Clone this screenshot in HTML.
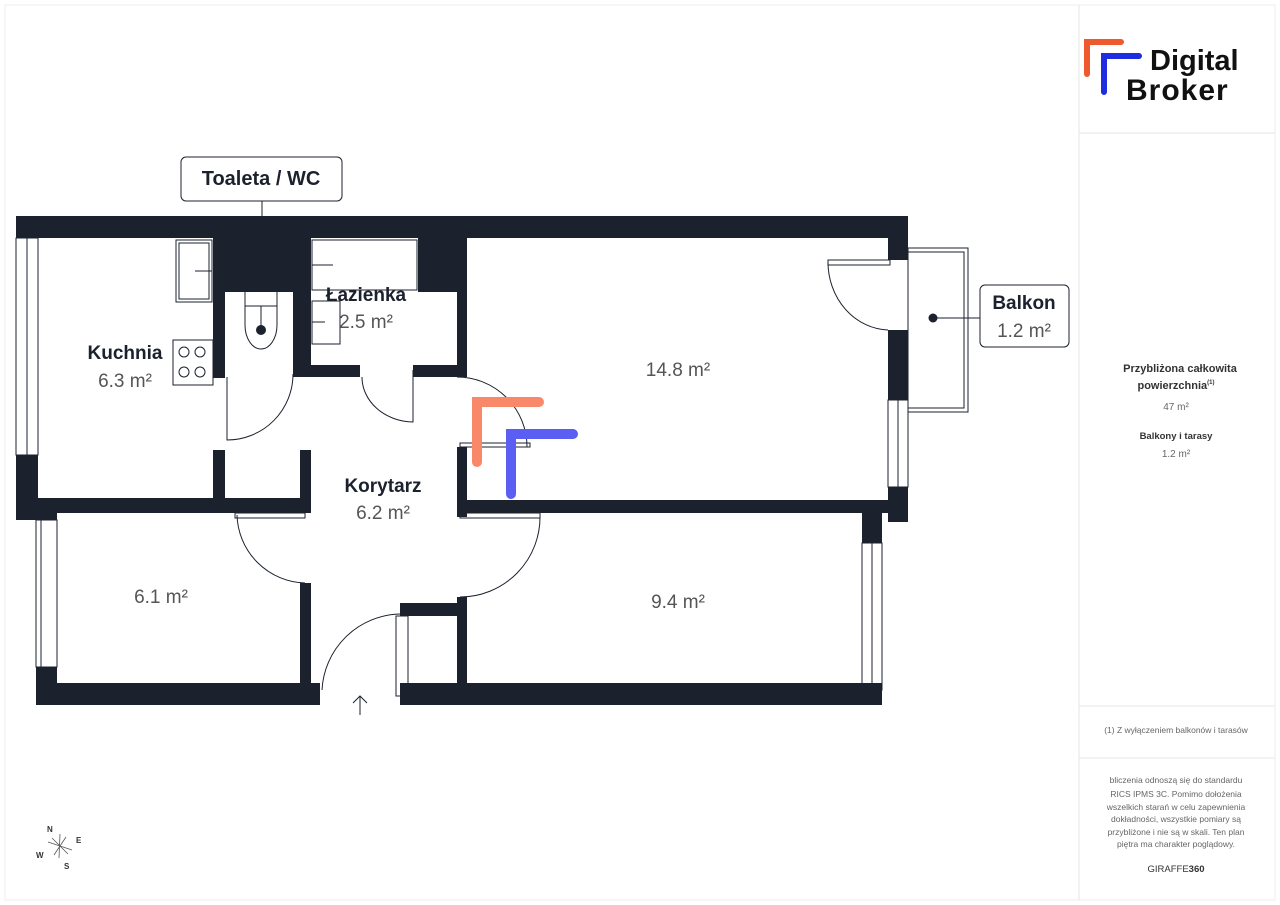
<!DOCTYPE html>
<html><head><meta charset="utf-8"><style>
html,body{margin:0;padding:0;background:#fff;}
svg{display:block;font-family:"Liberation Sans",sans-serif;}
</style></head><body>
<svg width="1280" height="905" viewBox="0 0 1280 905" xmlns="http://www.w3.org/2000/svg">
<rect x="5" y="5" width="1270" height="895" fill="#fff" stroke="#eee" stroke-width="1"/>
<line x1="1079" y1="5" x2="1079" y2="900" stroke="#e6e6e6"/>
<line x1="1079" y1="133" x2="1275" y2="133" stroke="#e6e6e6"/>
<line x1="1079" y1="706" x2="1275" y2="706" stroke="#e6e6e6"/>
<line x1="1079" y1="758" x2="1275" y2="758" stroke="#e6e6e6"/>

<!-- logo -->
<path d="M1087 74 V42 H1121" fill="none" stroke="#f0582e" stroke-width="6" stroke-linecap="round"/>
<path d="M1104 92 V56 H1139" fill="none" stroke="#1e2de0" stroke-width="6" stroke-linecap="round"/>
<text x="1150" y="70" font-size="29" font-weight="bold" fill="#111">Digital</text>
<text x="1126" y="100" font-size="30" font-weight="bold" fill="#111" letter-spacing="1">Broker</text>

<!-- right panel text -->
<g fill="#333" text-anchor="middle">
<text x="1180" y="372" font-size="11" font-weight="bold">Przybliżona całkowita</text>
<text x="1176" y="389" font-size="11" font-weight="bold">powierzchnia<tspan font-size="6" dy="-5">(1)</tspan></text>
<text x="1176" y="410" font-size="10" fill="#666">47 m²</text>
<text x="1176" y="439" font-size="9.5" font-weight="bold">Balkony i tarasy</text>
<text x="1176" y="457" font-size="10" fill="#666">1.2 m²</text>
<text x="1176" y="733" font-size="8.5" fill="#666">(1) Z wyłączeniem balkonów i tarasów</text>
<g font-size="8.5" fill="#666">
<text x="1176" y="783">bliczenia odnoszą się do standardu</text>
<text x="1176" y="797">RICS IPMS 3C. Pomimo dołożenia</text>
<text x="1176" y="810">wszelkich starań w celu zapewnienia</text>
<text x="1176" y="822">dokładności, wszystkie pomiary są</text>
<text x="1176" y="835">przybliżone i nie są w skali. Ten plan</text>
<text x="1176" y="847">piętra ma charakter poglądowy.</text>
</g>
<text x="1176" y="872" font-size="9.5" fill="#333">GIRAFFE<tspan font-weight="bold">360</tspan></text>
</g>

<!-- compass -->
<g stroke="#555" stroke-width="0.8">
<line x1="48" y1="842" x2="72" y2="850"/><line x1="60" y1="834" x2="59" y2="858"/>
<line x1="52" y1="838" x2="68" y2="854"/><line x1="66" y1="837" x2="54" y2="855"/>
</g>
<g font-size="8" font-weight="bold" fill="#333"><text x="47" y="832">N</text><text x="76" y="843">E</text><text x="36" y="858">W</text><text x="64" y="869">S</text></g>

<g fill="#1b222d">
<rect x="16" y="216" width="892" height="22"/>
<rect x="16" y="455" width="22" height="63"/>
<rect x="16" y="498" width="295" height="15"/>
<rect x="16" y="498" width="41" height="22"/>
<rect x="213" y="238" width="92" height="54"/>
<rect x="213" y="238" width="12" height="140"/>
<rect x="293" y="238" width="18" height="139"/>
<rect x="293" y="365" width="67" height="12"/>
<rect x="413" y="365" width="54" height="12"/>
<rect x="418" y="238" width="49" height="54"/>
<rect x="457" y="238" width="10" height="137"/>
<rect x="213" y="450" width="12" height="60"/>
<rect x="300" y="450" width="11" height="63"/>
<rect x="457" y="447" width="10" height="70"/>
<rect x="457" y="500" width="451" height="13"/>
<rect x="888" y="216" width="20" height="44"/>
<rect x="888" y="330" width="20" height="70"/>
<rect x="888" y="487" width="20" height="35"/>
<rect x="862" y="513" width="20" height="30"/>
<rect x="862" y="690" width="20" height="15"/>
<rect x="457" y="597" width="10" height="108"/>
<rect x="400" y="683" width="482" height="22"/>
<rect x="400" y="603" width="67" height="13"/>
<rect x="36" y="667" width="21" height="38"/>
<rect x="36" y="683" width="284" height="22"/>
<rect x="300" y="583" width="11" height="110"/>
</g>

<g fill="none" stroke="#1b222d" stroke-width="1">
<rect x="16" y="238" width="22" height="217"/><line x1="27" y1="238" x2="27" y2="455"/>
<rect x="36" y="520" width="21" height="147"/><line x1="41" y1="520" x2="41" y2="667"/>
<rect x="888" y="400" width="20" height="87"/><line x1="898" y1="400" x2="898" y2="487"/>
<rect x="862" y="543" width="20" height="147"/><line x1="872" y1="543" x2="872" y2="690"/>
<rect x="396" y="616" width="12" height="80"/>
<rect x="176" y="240" width="36" height="62"/><rect x="179" y="243" width="30" height="56"/><line x1="195" y1="271" x2="212" y2="271"/>
<rect x="173" y="340" width="40" height="45"/>
<circle cx="184" cy="352" r="5"/><circle cx="200" cy="352" r="5"/><circle cx="184" cy="372" r="5"/><circle cx="200" cy="372" r="5"/>
<path d="M245 292 V325 A16 24 0 0 0 277 325 V292"/><line x1="245" y1="306" x2="277" y2="306"/><line x1="261" y1="306" x2="261" y2="330"/>
<path d="M227 377 V440 A66 66 0 0 0 293 374"/>
<rect x="312" y="240" width="105" height="50"/><line x1="312" y1="265" x2="333" y2="265"/>
<rect x="312" y="301" width="28" height="43"/><line x1="312" y1="322" x2="325" y2="322"/>
<path d="M362 377 A52 45 0 0 0 413 422 V370"/>
<path d="M457 377 A70 70 0 0 1 527 447 H460"/>
<rect x="460" y="443" width="70" height="4"/>
<rect x="235" y="513" width="70" height="5"/>
<path d="M237 515 A70 70 0 0 0 305 583"/>
<rect x="460" y="513" width="80" height="5"/>
<path d="M540 515 A80 80 0 0 1 460 597"/>
<path d="M322 690 A80 80 0 0 1 400 614"/>
<rect x="828" y="260" width="62" height="5"/>
<path d="M828 262 A62 68 0 0 0 888 330"/>
<rect x="908" y="248" width="60" height="164"/><rect x="908" y="252" width="56" height="156"/>
<path d="M360 715 V696 M353 703 L360 696 L367 703"/>
</g>
<circle cx="261" cy="330" r="5" fill="#1b222d"/>
<circle cx="933" cy="318" r="4.5" fill="#1b222d"/>
<line x1="933" y1="318" x2="980" y2="318" stroke="#1b222d"/>

<path d="M477 462 V402 H539" fill="none" stroke="#f9876a" stroke-width="10" stroke-linecap="round"/>
<path d="M511 494 V434 H573" fill="none" stroke="#5b5ef2" stroke-width="10" stroke-linecap="round"/>

<rect x="181" y="157" width="161" height="44" rx="5" fill="#fff" stroke="#1b222d"/>
<line x1="262" y1="201" x2="262" y2="216" stroke="#1b222d"/>
<text x="261" y="185" font-size="20" font-weight="bold" fill="#1b222d" text-anchor="middle">Toaleta / WC</text>
<rect x="980" y="285" width="89" height="62" rx="5" fill="#fff" stroke="#1b222d"/>
<text x="1024" y="309" font-size="19" font-weight="bold" fill="#1b222d" text-anchor="middle">Balkon</text>
<text x="1024" y="337" font-size="19" fill="#555" text-anchor="middle">1.2 m²</text>

<g text-anchor="middle" font-size="19">
<text x="125" y="359" font-weight="bold" fill="#1b222d">Kuchnia</text>
<text x="125" y="387" fill="#555">6.3 m²</text>
<text x="366" y="301" font-weight="bold" fill="#1b222d">Łazienka</text>
<text x="366" y="328" fill="#555">2.5 m²</text>
<text x="383" y="492" font-weight="bold" fill="#1b222d">Korytarz</text>
<text x="383" y="519" fill="#555">6.2 m²</text>
<text x="678" y="376" fill="#555">14.8 m²</text>
<text x="678" y="608" fill="#555">9.4 m²</text>
<text x="161" y="603" fill="#555">6.1 m²</text>
</g>
</svg>
</body></html>
